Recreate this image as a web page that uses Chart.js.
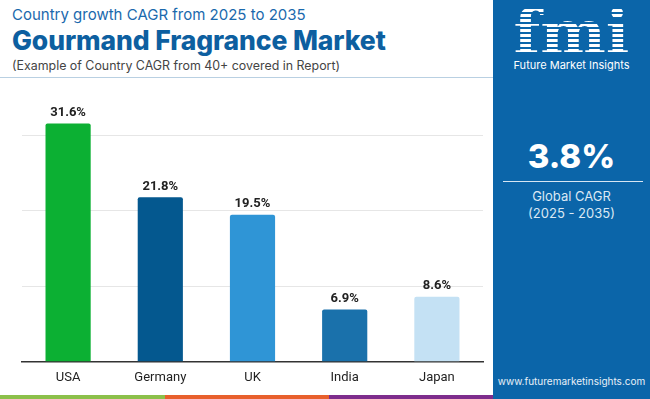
<!DOCTYPE html>
<html lang="en">
  <head>
    <meta charset="UTF-8" />
    <title>Gourmand Fragrance Market</title>
    <style>
      * {
        box-sizing: border-box;
        margin: 0;
        padding: 0;
      }
      body {
        width: 650px;
        height: 399px;
        position: relative;
        overflow: hidden;
        background: #fff;
        font-family: "Inter", "Open Sans", sans-serif;
      }
      .header {
        position: absolute;
        left: 12px;
        top: 5px;
      }
      .header__kicker {
        font-size: 15px;
        color: #1a69ad;
        line-height: 20px;
      }
      .header__title {
        font-size: 26.5px;
        font-weight: 800;
        color: #0d5fa0;
        line-height: 30px;
        letter-spacing: -0.1px;
      }
      .header__sub {
        font-size: 12.4px;
        color: #444;
        line-height: 21px;
      }
      .header-line {
        position: absolute;
        left: 0;
        top: 77px;
        width: 493px;
        height: 1px;
        background: #b9d0e2;
      }
      .chart__container {
        position: absolute;
        left: 0;
        top: 80px;
        width: 493px;
        height: 315px;
      }
      .strip {
        position: absolute;
        top: 395px;
        height: 4px;
      }
      .panel {
        position: absolute;
        left: 493px;
        top: 0;
        width: 157px;
        height: 399px;
        background: #0b65a9;
        color: #fff;
        text-align: center;
      }
      .logo {
        position: absolute;
        left: 0;
        width: 157px;
        top: 4px;
        font-family: "DejaVu Serif", serif;
        font-size: 62px;
        font-weight: bold;
        line-height: 58px;
        background: repeating-linear-gradient(
          to bottom,
          #fff 0 3px,
          transparent 3px 5px
        );
        -webkit-background-clip: text;
        background-clip: text;
        color: transparent;
      }
      .logo__name {
        position: absolute;
        left: 0;
        width: 157px;
        top: 58px;
        font-size: 11px;
      }
      .cagr {
        position: absolute;
        left: 0;
        width: 157px;
        top: 136px;
        font-size: 33px;
        font-weight: 800;
        line-height: 40px;
      }
      .cagr-line {
        position: absolute;
        left: 10px;
        top: 181px;
        width: 140px;
        height: 1px;
        background: #d6e6f3;
      }
      .cagr-text {
        position: absolute;
        left: 0;
        width: 157px;
        top: 188px;
        font-size: 13px;
        line-height: 17px;
        color: #dbe8f4;
      }
      .site {
        position: absolute;
        left: 0;
        width: 157px;
        top: 375px;
        font-size: 10px;
        color: #e8f0f8;
      }
    </style>
  </head>
  <body>
    <div class="header">
      <p class="header__kicker">Country growth CAGR from 2025 to 2035</p>
      <p class="header__title">Gourmand Fragrance Market</p>
      <p class="header__sub">(Example of Country CAGR from 40+ covered in Report)</p>
    </div>
    <div class="header-line"></div>
    <div class="chart__container">
      <canvas id="cagrChart"></canvas>
    </div>
    <div class="strip" style="left: 0; width: 165px; background: #8cc04a"></div>
    <div class="strip" style="left: 165px; width: 164px; background: #e8602c"></div>
    <div class="strip" style="left: 329px; width: 164px; background: #7e2d8c"></div>
    <div class="panel">
      <div class="logo">fmi</div>
      <div class="logo__name">Future Market Insights</div>
      <div class="cagr">3.8%</div>
      <div class="cagr-line"></div>
      <div class="cagr-text">Global CAGR<br />(2025 - 2035)</div>
      <div class="site">www.futuremarketinsights.com</div>
    </div>

    <script src="https://cdn.jsdelivr.net/npm/chart.js"></script>
    <script>
      const countries = ["USA", "Germany", "UK", "India", "Japan"];
      const cagrValues = [31.6, 21.8, 19.5, 6.9, 8.6];
      const barColors = ["#0cb033", "#04588f", "#2f95d6", "#1a71ab", "#c4e1f4"];
      const gridTicks = [10, 20, 30];

      // values above the bars
      const valueLabels = {
        id: "valueLabels",
        afterDatasetsDraw(chart) {
          const ctx = chart.ctx;
          const meta = chart.getDatasetMeta(0);
          ctx.save();
          ctx.font = "bold 13px Roboto";
          ctx.fillStyle = "#222";
          ctx.textAlign = "center";
          ctx.textBaseline = "bottom";
          meta.data.forEach((bar, i) => {
            ctx.fillText(cagrValues[i].toFixed(1) + "%", bar.x, bar.y - 4);
          });
          ctx.restore();
        },
      };

      new Chart(document.getElementById("cagrChart"), {
        type: "bar",
        data: {
          labels: countries,
          datasets: [
            {
              data: cagrValues,
              backgroundColor: barColors,
              borderRadius: { topLeft: 2, topRight: 2 },
              borderSkipped: "bottom",
              barPercentage: 0.49,
              categoryPercentage: 1,
            },
          ],
        },
        options: {
          responsive: true,
          maintainAspectRatio: false,
          animation: false,
          layout: {
            padding: { left: 22, right: 10, top: 18, bottom: 0 },
          },
          plugins: {
            legend: { display: false },
            tooltip: { enabled: false },
          },
          scales: {
            x: {
              grid: { display: false, drawTicks: false },
              border: { color: "#333", width: 1.5 },
              ticks: {
                padding: 9,
                color: "#222",
                font: { family: "Roboto", size: 13 },
              },
            },
            y: {
              min: 0,
              max: 35,
              afterBuildTicks(scale) {
                scale.ticks = gridTicks.map((v) => ({ value: v }));
              },
              ticks: { display: false },
              grid: { color: "#e6e6e6", drawTicks: false },
              border: { display: false },
            },
          },
        },
        plugins: [valueLabels],
      });
    </script>
  </body>
</html>
